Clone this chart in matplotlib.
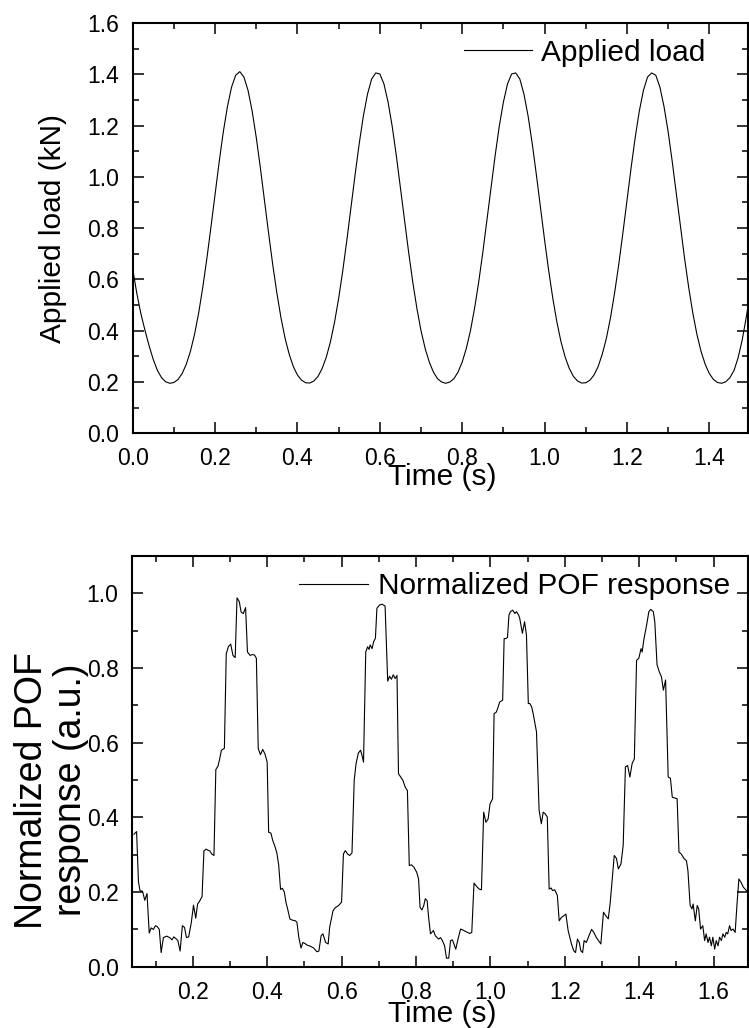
import numpy as np
import matplotlib
matplotlib.use("Agg")
import matplotlib.pyplot as plt
from matplotlib.ticker import MultipleLocator

plt.rcParams['font.family'] = ['Liberation Sans', 'DejaVu Sans']

load_t = np.round(np.arange(0, 1.501, 0.01), 2)
load_v = [
    0.640, 0.545, 0.465, 0.400, 0.340, 0.287, 0.245, 0.217, 0.201, 0.195,
    0.198, 0.210, 0.233, 0.269, 0.319, 0.385, 0.468, 0.568, 0.681, 0.805,
    0.933, 1.059, 1.176, 1.274, 1.350, 1.396, 1.410, 1.389, 1.337, 1.256,
    1.153, 1.034, 0.907, 0.779, 0.657, 0.547, 0.450, 0.370, 0.308, 0.260,
    0.227, 0.207, 0.197, 0.196, 0.204, 0.222, 0.253, 0.297, 0.356, 0.433,
    0.526, 0.634, 0.754, 0.882, 1.009, 1.130, 1.237, 1.322, 1.381, 1.405,
    1.401, 1.362, 1.291, 1.197, 1.083, 0.958, 0.830, 0.705, 0.589, 0.487,
    0.400, 0.331, 0.278, 0.239, 0.213, 0.200, 0.195, 0.200, 0.213, 0.239,
    0.278, 0.331, 0.400, 0.487, 0.589, 0.705, 0.830, 0.958, 1.083, 1.197,
    1.291, 1.362, 1.401, 1.405, 1.381, 1.322, 1.237, 1.130, 1.009, 0.882,
    0.754, 0.634, 0.526, 0.433, 0.356, 0.297, 0.253, 0.222, 0.204, 0.196,
    0.197, 0.207, 0.227, 0.260, 0.308, 0.370, 0.450, 0.547, 0.657, 0.779,
    0.907, 1.034, 1.153, 1.256, 1.337, 1.389, 1.405, 1.396, 1.350, 1.274,
    1.176, 1.059, 0.933, 0.805, 0.681, 0.568, 0.468, 0.385, 0.319, 0.269,
    0.233, 0.210, 0.198, 0.195, 0.201, 0.217, 0.245, 0.295, 0.365, 0.455,
    0.555,
]

# normalized POF response
pof_t = [
    0.042, 0.049, 0.054, 0.058, 0.065, 0.071, 0.077, 0.083, 0.088, 0.094,
    0.100, 0.105, 0.110, 0.115, 0.121, 0.130, 0.138, 0.144, 0.149, 0.155,
    0.160, 0.166, 0.172, 0.178, 0.183, 0.189, 0.196, 0.202, 0.208, 0.213,
    0.218, 0.225, 0.230, 0.236, 0.241, 0.246, 0.251, 0.257, 0.262, 0.268,
    0.272, 0.277, 0.285, 0.290, 0.296, 0.302, 0.308, 0.314, 0.319, 0.325,
    0.330, 0.336, 0.342, 0.347, 0.354, 0.360, 0.366, 0.371, 0.376, 0.382,
    0.388, 0.394, 0.400, 0.404, 0.410, 0.415, 0.420, 0.426, 0.431, 0.436,
    0.441, 0.446, 0.451, 0.455, 0.461, 0.467, 0.476, 0.480, 0.485, 0.491,
    0.496, 0.502, 0.507, 0.516, 0.525, 0.534, 0.539, 0.545, 0.550, 0.557,
    0.564, 0.568, 0.577, 0.583, 0.592, 0.600, 0.605, 0.610, 0.616, 0.622,
    0.628, 0.634, 0.639, 0.645, 0.651, 0.655, 0.659, 0.665, 0.670, 0.674,
    0.677, 0.682, 0.686, 0.691, 0.695, 0.702, 0.709, 0.717, 0.724, 0.729,
    0.734, 0.739, 0.744, 0.749, 0.753, 0.759, 0.765, 0.771, 0.777, 0.782,
    0.788, 0.794, 0.802, 0.807, 0.811, 0.816, 0.821, 0.825, 0.830, 0.834,
    0.839, 0.847, 0.852, 0.861, 0.866, 0.871, 0.877, 0.882, 0.888, 0.893,
    0.898, 0.902, 0.907, 0.913, 0.920, 0.927, 0.934, 0.945, 0.950, 0.956,
    0.963, 0.970, 0.976, 0.982, 0.988, 0.994, 0.999, 1.006, 1.010, 1.016,
    1.021, 1.025, 1.033, 1.037, 1.042, 1.046, 1.050, 1.054, 1.060, 1.066,
    1.070, 1.076, 1.079, 1.086, 1.092, 1.097, 1.102, 1.106, 1.111, 1.115,
    1.120, 1.124, 1.131, 1.137, 1.142, 1.147, 1.153, 1.158, 1.163, 1.167,
    1.173, 1.180, 1.185, 1.191, 1.198, 1.203, 1.209, 1.218, 1.224, 1.229,
    1.234, 1.239, 1.243, 1.248, 1.252, 1.258, 1.265, 1.272, 1.278, 1.285,
    1.292, 1.297, 1.304, 1.310, 1.317, 1.322, 1.333, 1.339, 1.344, 1.351,
    1.357, 1.363, 1.369, 1.375, 1.381, 1.387, 1.393, 1.399, 1.405, 1.408,
    1.413, 1.420, 1.426, 1.431, 1.438, 1.442, 1.448, 1.454, 1.460, 1.465,
    1.471, 1.478, 1.484, 1.489, 1.496, 1.502, 1.507, 1.513, 1.521, 1.527,
    1.531, 1.537, 1.542, 1.545, 1.551, 1.556, 1.560, 1.565, 1.571, 1.576,
    1.580, 1.585, 1.589, 1.594, 1.598, 1.603, 1.607, 1.612, 1.616, 1.621,
    1.625, 1.630, 1.634, 1.638, 1.643, 1.647, 1.652, 1.658, 1.663, 1.668,
    1.674, 1.680, 1.692,
]
pof_v = [
    0.355, 0.362, 0.228, 0.204, 0.202, 0.178, 0.196, 0.090, 0.104, 0.100,
    0.110, 0.107, 0.100, 0.038, 0.078, 0.082, 0.078, 0.072, 0.080, 0.075,
    0.070, 0.042, 0.110, 0.105, 0.078, 0.080, 0.118, 0.165, 0.130, 0.168,
    0.175, 0.188, 0.310, 0.315, 0.312, 0.310, 0.302, 0.298, 0.528, 0.538,
    0.555, 0.580, 0.585, 0.838, 0.858, 0.864, 0.834, 0.828, 0.988, 0.978,
    0.950, 0.946, 0.962, 0.843, 0.834, 0.836, 0.835, 0.826, 0.584, 0.568,
    0.582, 0.570, 0.548, 0.360, 0.358, 0.338, 0.325, 0.305, 0.272, 0.207,
    0.210, 0.200, 0.170, 0.155, 0.128, 0.125, 0.123, 0.119, 0.079, 0.050,
    0.065, 0.062, 0.058, 0.055, 0.050, 0.040, 0.042, 0.083, 0.088, 0.065,
    0.061, 0.106, 0.150, 0.158, 0.164, 0.173, 0.302, 0.311, 0.302, 0.298,
    0.305, 0.500, 0.544, 0.572, 0.580, 0.566, 0.548, 0.843, 0.857, 0.850,
    0.862, 0.852, 0.870, 0.880, 0.960, 0.969, 0.971, 0.966, 0.765, 0.778,
    0.770, 0.782, 0.772, 0.780, 0.517, 0.508, 0.499, 0.481, 0.472, 0.271,
    0.273, 0.267, 0.253, 0.235, 0.159, 0.152, 0.164, 0.182, 0.177, 0.132,
    0.088, 0.097, 0.083, 0.074, 0.078, 0.070, 0.056, 0.023, 0.023, 0.070,
    0.072, 0.061, 0.047, 0.074, 0.101, 0.098, 0.094, 0.089, 0.092, 0.224,
    0.215, 0.208, 0.206, 0.414, 0.387, 0.396, 0.436, 0.450, 0.678, 0.682,
    0.696, 0.709, 0.714, 0.879, 0.879, 0.882, 0.942, 0.951, 0.955, 0.946,
    0.951, 0.942, 0.933, 0.893, 0.924, 0.888, 0.705, 0.705, 0.696, 0.678,
    0.651, 0.629, 0.419, 0.383, 0.414, 0.410, 0.401, 0.208, 0.211, 0.204,
    0.206, 0.191, 0.123, 0.132, 0.137, 0.141, 0.097, 0.061, 0.043, 0.038,
    0.074, 0.065, 0.043, 0.038, 0.070, 0.065, 0.083, 0.100, 0.092, 0.078,
    0.068, 0.061, 0.146, 0.137, 0.128, 0.170, 0.298, 0.290, 0.262, 0.275,
    0.325, 0.535, 0.539, 0.508, 0.544, 0.557, 0.821, 0.826, 0.852, 0.843,
    0.879, 0.915, 0.951, 0.957, 0.951, 0.924, 0.809, 0.790, 0.776, 0.741,
    0.768, 0.508, 0.505, 0.454, 0.452, 0.450, 0.307, 0.302, 0.289, 0.284,
    0.258, 0.164, 0.155, 0.168, 0.123, 0.164, 0.155, 0.101, 0.110, 0.070,
    0.088, 0.065, 0.079, 0.056, 0.079, 0.047, 0.070, 0.056, 0.079, 0.070,
    0.088, 0.079, 0.092, 0.088, 0.110, 0.097, 0.101, 0.092, 0.168, 0.235,
    0.226, 0.213, 0.200,
]

fig = plt.figure(figsize=(7.49, 10.28), dpi=100)
ax1 = fig.add_axes([0.1772, 0.5785, 0.8215, 0.3992])
ax2 = fig.add_axes([0.1769, 0.0596, 0.8218, 0.3995])

for ax in (ax1, ax2):
    ax.tick_params(which='both', direction='in', top=True, right=True,
                   labelsize=16.5, width=1.1, pad=10)
    ax.tick_params(which='major', length=8)
    ax.tick_params(which='minor', length=4.5)
    for s in ax.spines.values():
        s.set_linewidth(1.5)
    ax.xaxis.set_major_locator(MultipleLocator(0.2))
    ax.xaxis.set_minor_locator(MultipleLocator(0.1))
    ax.yaxis.set_major_locator(MultipleLocator(0.2))
    ax.yaxis.set_minor_locator(MultipleLocator(0.1))

# top: applied load
ax1.plot(load_t, load_v, color='black', lw=0.8, label='Applied load')
ax1.set_xlim(0, 1.494)
ax1.set_ylim(0, 1.6)
ax1.set_xlabel('Time (s)', fontsize=21.5)
ax1.xaxis.set_label_coords(0.5027, -0.072)
ax1.set_ylabel('Applied load (kN)', fontsize=21.5, va='center')
ax1.yaxis.set_label_coords(-0.1295, 0.5)
ax1.legend(loc='center right', bbox_to_anchor=(0.930, 0.927), frameon=False,
           fontsize=21.5, handlelength=2.27, handletextpad=0.3,
           borderpad=0, borderaxespad=0)

# bottom: POF response
ax2.plot(pof_t, pof_v, color='black', lw=0.8, label='Normalized POF response')
ax2.set_xlim(0.038, 1.6926)
ax2.set_ylim(0, 1.1)
ax2.set_xlabel('Time (s)', fontsize=21.5)
ax2.xaxis.set_label_coords(0.5027, -0.082)
ax2.set_ylabel('Normalized POF\nresponse (a.u.)', fontsize=27, va='center',
               linespacing=1.08)
ax2.yaxis.set_label_coords(-0.1316, 0.430)
ax2.legend(loc='center right', bbox_to_anchor=(0.971, 0.927), frameon=False,
           fontsize=21.5, handlelength=2.3, handletextpad=0.33,
           borderpad=0, borderaxespad=0)

fig.savefig('out.png', dpi=100)
